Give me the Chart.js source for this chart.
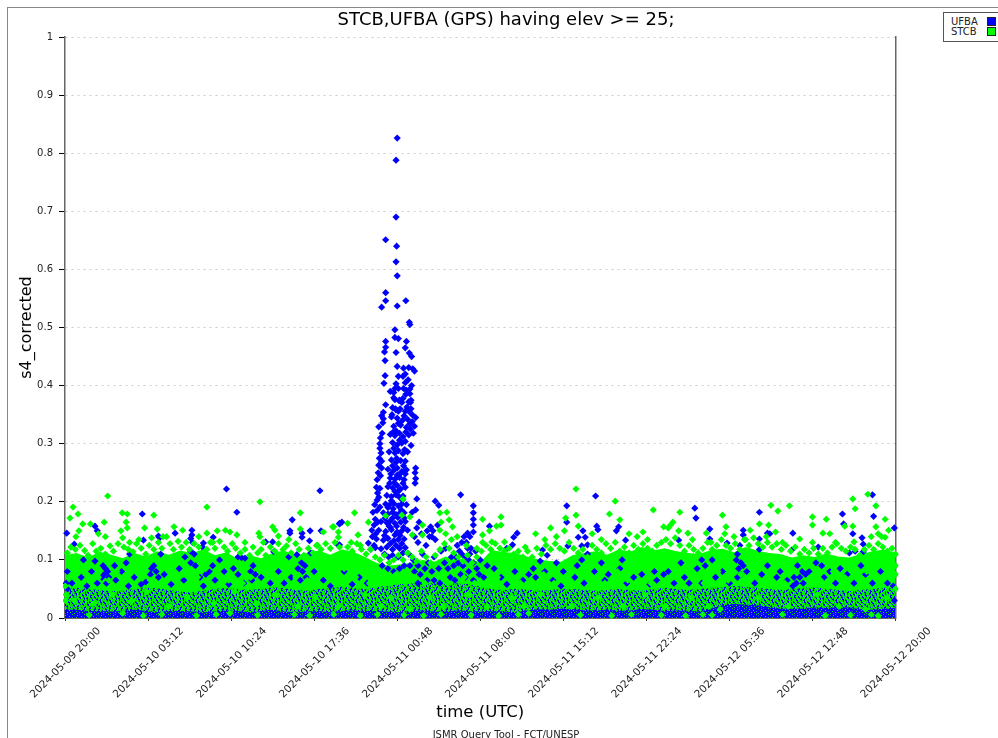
<!DOCTYPE html>
<html>
<head>
<meta charset="utf-8">
<title>s4_corrected</title>
<script src="https://cdn.jsdelivr.net/npm/chart.js@4/dist/chart.umd.min.js"></script>
<style>
    html, body { margin: 0; background: #fff; overflow: hidden; width: 998px; height: 738px; }
    #frame { position: absolute; left: 7px; top: 7px; width: 1000px; height: 800px; border-left: 1px solid #888; border-top: 1px solid #888; }
    #chartBox { position: absolute; left: 8px; top: 8px; }
    #legend { position: absolute; left: 943px; top: 12px; width: 60px; height: 28px; border: 1px solid #555; background: #fff;
              font: 10px/10px "DejaVu Sans", sans-serif; color: #222; }
    #legend div { position: absolute; left: 7px; }
    #legend span { position: absolute; left: 36px; top: 0; width: 7px; height: 7px; border: 1px solid #222; }
</style>
</head>
<body>
<div id="frame"></div>
<div id="chartBox"><canvas id="scatterChart" width="996" height="736"></canvas></div>
<div id="legend"></div>
<script>
// hours after 2024-05-09 20:00 on x, s4_corrected on y
var xTickHours = [0, 7.2, 14.4, 21.6, 28.8, 36, 43.2, 50.4, 57.6, 64.8, 72];
var xTickLabels = ['2024-05-09 20:00', '2024-05-10 03:12', '2024-05-10 10:24', '2024-05-10 17:36', '2024-05-11 00:48',
    '2024-05-11 08:00', '2024-05-11 15:12', '2024-05-11 22:24', '2024-05-12 05:36', '2024-05-12 12:48', '2024-05-12 20:00'];
var seriesNames = ['UFBA', 'STCB'];
var seriesColors = ['#0000ff', '#00ff00'];

// top of the solid green cloud, one value per hour
var stcbCloudTop = [.108,.112,.104,.114,.109,.103,.112,.106,.115,.109,.116,.112,.118,.108,.113,.101,.108,.103,.112,.116,.107,.112,.116,.109,.118,.114,.105,.095,.09,.092,.095,.1,.097,.106,.101,.102,.096,.117,.113,.112,.106,.101,.098,.097,.108,.112,.115,.109,.118,.114,.122,.116,.12,.115,.112,.11,.117,.119,.113,.122,.116,.112,.11,.104,.108,.105,.111,.106,.104,.11,.115,.118,.112];
// top of the overplotted blue and green mix, one value per hour
var mixCloudTop = [.05,.052,.05,.048,.046,.047,.05,.052,.051,.048,.045,.044,.047,.05,.052,.05,.048,.05,.053,.051,.048,.047,.05,.052,.054,.052,.05,.053,.056,.058,.06,.062,.06,.058,.06,.058,.054,.05,.048,.05,.049,.047,.048,.05,.05,.048,.047,.048,.05,.048,.047,.05,.052,.05,.048,.05,.052,.053,.055,.054,.052,.05,.048,.05,.052,.053,.05,.048,.046,.048,.05,.052,.05];
// top of the blue floor, one value per hour
var ufbaFloorTop = [.014,.014,.012,.012,.011,.012,.014,.012,.01,.012,.012,.011,.01,.011,.013,.012,.01,.012,.014,.011,.01,.011,.012,.01,.012,.013,.012,.012,.011,.01,.012,.013,.011,.011,.013,.012,.011,.012,.011,.01,.013,.015,.014,.016,.015,.013,.013,.014,.012,.013,.015,.014,.012,.013,.012,.011,.016,.022,.024,.023,.022,.019,.016,.016,.016,.018,.017,.019,.018,.015,.014,.016,.017];

var ufbaPoints = [
    [28.8,.826],[28.7,.788],[28.7,.69],[27.8,.651],[28.75,.64],[28.7,.613],[28.8,.589],[27.8,.56],[27.8,.546],[29.55,.546],[27.45,.535],[28.8,.537],
    [29.85,.509],[29.9,.505],[28.6,.496],[28.6,.483],[28.9,.481],[27.8,.476],[29.6,.476],[27.8,.466],[29.5,.465],[27.7,.458],[28.7,.457],[29.85,.456],[30.05,.45],[27.75,.443],
    [28.8,.433],[29.8,.431],[30.15,.429],[29.35,.43],[27.75,.417],[28.9,.416],[29.3,.416],[27.65,.404],[28.7,.403],[29.5,.405],[28.6,.395],[29.9,.386],[28.5,.379],[29.95,.371],[29.2,.371],
    [27.8,.367],[28.65,.36],[29.65,.363],[27.6,.354],[29.8,.356],[28.9,.356],[27.6,.343],[27.55,.336],
    [27.2,.329],[27.5,.318],[27.3,.3],[27.4,.284],[27.2,.263],[27.45,.258],[27.06,.238],[27.3,.223],[27.06,.203],[27.3,.191],[26.7,.182],[26.6,.151],[26.3,.129],[26.9,.17],[27.1,.215],[27.25,.275],[27.35,.31],
    [27.45,.348],[27.3,.292],[27.15,.25],[27.35,.245],[27.0,.225],[27.2,.208],[26.85,.195],[27.05,.185],[26.8,.16],[27.1,.165],[26.65,.14],[26.95,.145],[26.5,.118],[26.8,.125],[27.45,.27],
    [28.2,.39],[28.5,.388],[29.6,.392],[29.9,.394],[28.6,.376],[28.95,.374],[29.3,.378],[29.8,.372],[28.4,.362],[28.7,.358],[29.05,.36],[29.5,.356],[30.0,.36],
    [28.3,.346],[28.8,.344],[29.4,.348],[29.7,.342],[30.1,.35],[28.5,.33],[29.1,.332],[29.6,.328],[29.9,.334],[28.2,.316],[28.6,.314],[29.0,.318],[29.3,.312],[29.8,.315],[30.2,.318],
    [28.4,.302],[28.8,.298],[29.2,.301],[29.5,.304],[30.0,.297],[28.1,.286],[28.6,.284],[28.9,.288],[29.3,.283],[29.7,.286],[28.3,.272],[28.7,.268],[29.1,.271],[29.5,.27],
    [28.0,.256],[28.5,.254],[28.8,.258],[29.2,.252],[29.6,.255],[30.4,.258],[30.35,.25],[30.4,.24],[30.35,.232],[28.2,.241],[28.6,.239],[29.0,.242],[29.4,.238],
    [28.0,.226],[28.4,.224],[28.8,.228],[29.1,.222],[29.5,.225],[27.9,.211],[28.3,.209],[28.7,.212],[29.0,.208],[29.3,.21],[27.8,.196],[28.1,.194],[28.5,.197],[28.9,.193],[29.2,.196],[29.6,.195],
    [27.6,.181],[28.0,.179],[28.4,.182],[28.7,.178],[29.0,.18],[29.4,.181],[27.4,.166],[27.9,.164],[28.2,.167],[28.6,.163],[29.1,.165],[29.5,.166],[27.2,.151],[27.8,.149],[28.3,.152],[28.8,.148],[29.2,.15],[29.7,.151],
    [27.0,.136],[27.6,.134],[28.0,.137],[28.5,.133],[28.9,.135],[29.4,.136],[26.9,.121],[27.4,.119],[27.9,.122],[28.4,.118],[29.0,.12],[29.5,.121],
    [28.25,.248],[28.55,.233],[28.9,.218],[29.25,.203],[28.45,.188],[28.85,.173],[28.1,.158],[28.6,.143],[29.2,.128],[28.75,.275],[29.35,.262],[28.5,.292],[29.0,.306],[29.45,.29],[28.7,.322],[29.25,.34],[28.95,.246],[28.3,.202],
    [28.15,.232],[28.4,.262],[28.8,.246],[29.3,.232],[29.5,.248],[28.6,.218],[29.15,.186],[29.4,.172],[28.4,.172],[27.75,.172],[28,.19],[28.2,.156],[28.75,.158],[29.05,.142],[29.35,.156],[27.7,.142],[28.2,.128],[28.7,.125],[28.4,.108],[28.9,.105],[29.3,.112],[27.7,.11],[28.05,.105],
    [28.45,.32],[28.9,.335],[29.55,.32],[29.95,.325],[30.1,.338],[28.35,.35],[29,.375],[29.55,.385],[30,.375],[29.35,.395],[28.9,.395],[30.05,.4],[29.75,.41],[30.3,.425],[29.5,.42],[30.4,.345],[30.3,.33],
    [30.5,.205],[30.4,.186],[30.1,.182],[30.7,.165],[31.7,.157],[32.3,.16],[32.1,.201],[32.4,.194],[34.3,.212],[35.4,.193],[35.4,.181],[35.4,.17],[35.4,.16],[35.4,.148],[34.9,.146],[35.1,.14],[36.8,.158],[39.2,.146],[38.9,.139],[38.8,.126],[38.3,.12],[24,.165],[23.8,.162],[23.8,.126],
    [30.3,.14],[30.6,.13],[31.3,.125],[31.8,.14],[32.1,.135],[32.6,.115],[33,.12],[33.5,.105],[34,.125],[34.4,.11],[34.8,.13],[35.2,.12],[35.6,.115],[36,.1],[31,.11],[31.5,.095],[32,.105],[32.9,.095],[33.7,.09],[34.5,.09],[35,.1],[30.2,.1],[30.6,.09],[29.8,.11],[36.6,.09],[37.2,.085],
    [31.4,.15],[31.6,.14],[31.9,.15],[30.5,.155],[30.9,.145],[34.6,.14],[34.9,.12],[34.4,.13],[35.1,.11],[34.7,.105],[34.2,.115],[34.1,.095],[33.9,.105],[35.4,.095],[35.7,.085],[33.2,.085],[32.4,.085],[31.8,.08],[31.2,.085],[30.8,.075],[30.3,.08],[29.9,.09],[29.4,.09],[29,.085],[28.5,.08],[28,.085],[27.5,.09],[35.9,.075],[36.3,.07],
    [14,.222],[22.1,.219],[14.9,.182],[6.7,.179],[19.7,.169],[2.6,.158],[2.8,.15],[.15,.146],[11,.151],[11,.143],[10.9,.137],[11.05,.13],[9.55,.146],[8.1,.141],[8.2,.138],[12.85,.139],[17.4,.131],[18,.131],[19.5,.15],[19.5,.146],[20.55,.146],[20.55,.139],[21.25,.15],[21.2,.133],[22.2,.15],[23.8,.163],[15.6,.103],[15.3,.104],[15,.105],[12,.129],[11.9,.122],[6.8,.134],[.8,.127],
    [18.1,.114],[21.3,.112],[23.6,.127],[20.1,.109],[19.4,.105],[20.5,.095],[20.8,.09],[10.9,.115],[11.2,.11],[10.4,.105],[10.9,.095],[11.3,.09],[7.5,.085],[7.9,.08],[3.3,.09],[3.7,.08],[3.4,.075],[4.3,.09],[5.3,.095],[5.6,.11],[1.6,.1],[2.6,.098],[16.3,.09],[14.6,.085],[13.4,.1],[8.3,.11],
    [46,.21],[43.5,.193],[54.6,.189],[54.7,.172],[60.2,.182],[70,.212],[67.4,.179],[67.5,.162],[70.1,.175],[68.3,.145],[71.9,.155],[55.9,.153],[55.9,.136],[57.4,.129],[63.1,.146],[58.8,.151],[58.8,.143],[60.9,.146],[61.1,.145],[60.2,.136],[60.2,.118],[63,.117],[69.1,.138],[69.2,.127],[69.2,.114],[68.5,.115],[68,.112],[65.3,.122],[48.6,.134],[48,.157],[47.8,.15],[46.1,.158],[46.2,.152],[44.9,.15],[44.5,.139],[45.1,.139],[45.3,.126],[44.8,.124],[43.5,.165],[43.6,.124],[45.3,.11],[41.4,.117],[41.8,.108],[41.2,.098],[42.6,.095],[53.2,.134],
    [58.5,.125],[58.3,.11],[58.2,.1],[58.6,.095],[58.4,.085],[63.5,.09],[63.9,.08],[63.2,.07],[62.6,.065],[64.2,.075],[65.1,.095],[65.6,.09],[69,.09],[67.2,.085],[48.3,.1],[48.1,.085],[46.5,.095],[44.4,.09],[44.8,.1],[43.2,.08],[51.1,.08],[51.9,.075],[53.4,.095],[55.2,.1],[55.5,.09],[56.1,.1],[56.4,.07],[40.6,.085],[40.2,.075],[40.8,.07],[54.1,.06],[60.9,.09],[61.7,.07],[49.3,.07],[47.1,.075],[71.8,.055],[71.9,.03],
    [3.5,.085],[3.8,.07],[3.2,.07],[3.6,.06],[7.7,.09],[7.4,.075],[8.1,.07],[12.2,.075],[12.5,.08],[12.8,.09],[16.1,.08],[16.5,.075],[16.2,.065],[20.2,.085],[20.6,.08],[20.9,.07],[20.4,.065],[.2,.08],[.1,.06],[.2,.05],[58.8,.09],[58.6,.075],[58.3,.07],[63.7,.07],[63.4,.06],[63.1,.055],[64.5,.08],[64,.06],[33.4,.07],[33.8,.065],[34.3,.075],[34.7,.07],[35,.08],[32.5,.06],[32,.065],[31.4,.065],[30.6,.06],[35.4,.065],
    [.6,.06],[1.4,.07],[1.9,.055],[2.3,.08],[2.8,.06],[4.4,.065],[4.9,.08],[5.5,.055],[6,.07],[6.6,.058],[7,.062],[8.6,.075],[9.2,.058],[9.9,.085],[10.3,.065],[11.7,.07],[12,.055],[13,.065],[13.8,.08],[14.2,.058],[15,.075],[15.5,.06],[17,.07],[17.8,.06],[18.5,.08],[19,.06],[19.6,.07],[21.6,.08],[22.4,.065],[23,.055],[24.2,.08],[24.9,.058],[25.5,.07],[26.2,.06],[37.8,.07],[38.3,.058],[39,.08],[39.7,.065],[41.6,.08],[42.3,.065],[43,.055],[44.2,.07],[45,.06],[45.9,.08],[46.8,.065],[48.7,.06],[50,.075],[50.7,.058],[51.3,.065],[52.3,.08],[52.8,.06],[53.7,.07],[54.8,.085],[55.2,.06],[57,.08],[57.6,.06],[59.1,.08],[59.8,.06],[60.4,.075],[62,.08],[65.8,.07],[66.3,.08],[66.8,.06],[67.8,.075],[68.4,.06],[69.4,.075],[70,.06],[70.7,.08],[71.3,.06]
];

var stcbPoints = [
    [3.7,.21],[.7,.191],[.43,.172],[1.13,.179],[1.54,.162],[2.2,.162],[3.4,.165],[1.2,.15],[.95,.14],[4.96,.181],[5.4,.179],[5.3,.165],[5.4,.155],[4.85,.15],[5,.138],[5.6,.13],[7.7,.177],[6.9,.155],[8,.153],[9.45,.157],[10.2,.151],[12.3,.191],[12.3,.146],[13.2,.15],[13.9,.151],[14.3,.148],[16.9,.2],[16.8,.146],[16.9,.14],[14.9,.143],[18,.157],[18.2,.151],[18.5,.141],[20.4,.181],[20.4,.153],[22.4,.148],[23.2,.157],[2.9,.145],[3.5,.14],[6.4,.135],[7.5,.138],[8.5,.14],[11.6,.14],[12.8,.13],[15.6,.13],[17.2,.13],[19.4,.135],[21.9,.125],
    [25.1,.181],[23.3,.157],[24.5,.163],[23.7,.148],[23.7,.139],[25.4,.143],[26.3,.165],[33.1,.182],[32.5,.181],[33.3,.169],[32.6,.165],[33.6,.157],[32.5,.151],[36.2,.17],[37.8,.174],[36.8,.15],[37.4,.158],[37.8,.16],[36.2,.143],[37,.131],[38.1,.131],[36.2,.13],[29.3,.205],[27.8,.176],[29.2,.177],[29.9,.174],[31,.16],[31,.143],[30.1,.143],[39.9,.122],[24.8,.13],[25.6,.125],[33,.145],[33.5,.135],[34,.14],[34.8,.125],[35.7,.12],
    [44.3,.222],[47.7,.201],[51,.186],[47.2,.179],[53.3,.182],[57,.177],[61.2,.194],[61.8,.184],[62.8,.193],[64.8,.174],[64.8,.16],[66,.17],[68.3,.205],[68.5,.188],[69.6,.213],[70.3,.193],[71.1,.17],[68.3,.158],[67.6,.158],[70.3,.157],[44.3,.177],[43.4,.172],[44.5,.158],[42.1,.155],[40.8,.145],[48.1,.169],[52.7,.165],[52.5,.16],[52.3,.155],[51.9,.157],[50.1,.148],[53.2,.15],[54,.146],[55.6,.146],[57.3,.157],[57.2,.145],[59.4,.151],[60.2,.162],[61,.16],[61.6,.148],[63.7,.136],[65.7,.146],[66.3,.145],[70.5,.145],[71.4,.151],[71.1,.139],[68.4,.131],[42.6,.14],[41.6,.135],[43.3,.15],[45.7,.145],[46.5,.135],[48.9,.145],[49.6,.14],[50.5,.135],[54.4,.135],[56,.13],[58,.14],[59,.135],[60.8,.14],[62.2,.13],[64.8,.13],[66.8,.13],[69.9,.14],[70.8,.14],
    [.2,.112],[.5,.122],[.9,.118],[1.3,.125],[1.7,.116],[2,.108],[2.4,.128],[2.7,.115],[3.1,.12],[3.5,.11],[3.9,.124],[4.2,.115],[4.6,.128],[5.1,.122],[5.5,.118],[5.9,.114],[6.2,.128],[6.6,.12],[7,.11],[7.3,.125],[7.7,.118],[8.1,.13],[8.4,.12],[8.8,.14],[9.1,.128],[9.4,.118],[9.8,.132],[10.1,.122],[10.5,.13],[10.8,.118],[11.2,.128],[11.6,.122],[11.9,.112],[12.3,.118],[12.6,.13],[13,.12],[13.4,.132],[13.8,.122],[14.1,.115],[14.5,.128],[14.8,.12],[15.2,.112],[15.6,.118],[16,.108],[16.3,.122],[16.7,.112],[17,.118],[17.4,.108],[17.8,.122],[18.2,.115],[18.5,.128],[18.9,.118],[19.2,.124],[19.6,.112],[20,.128],[20.3,.118],[20.7,.108],[21.1,.12],[21.5,.112],[21.8,.125],[22.2,.118],[22.6,.128],[23,.12],[23.4,.13],[23.8,.122],[24.1,.112],[24.5,.122],[24.9,.115],[25.3,.128],[25.7,.118],[26.1,.11],[26.5,.118],[26.9,.105],[27.3,.1],[27.7,.108],[28.1,.095],[28.5,.1],[28.9,.108],[29.3,.1],[29.7,.112],[30.1,.105],[30.5,.098],[30.9,.115],[31.3,.105],[31.7,.095],[32.1,.108],[32.5,.118],[32.9,.128],[33.3,.12],[33.7,.112],[34.1,.105],[34.5,.098],[34.9,.108],[35.3,.095],[35.7,.105],[36.1,.115],[36.5,.125],[36.9,.118],[37.3,.128],[37.7,.12],[38.1,.115],[38.5,.12],[38.9,.11],[39.3,.115],[39.7,.105],
    [40.1,.115],[40.5,.105],[40.9,.12],[41.3,.11],[41.7,.125],[42.1,.118],[42.5,.128],[42.9,.12],[43.3,.115],[43.7,.13],[44.1,.12],[44.5,.112],[44.9,.118],[45.3,.105],[45.7,.125],[46.1,.118],[46.5,.112],[46.9,.128],[47.3,.12],[47.7,.13],[48.1,.115],[48.5,.122],[48.9,.112],[49.3,.125],[49.7,.118],[50.1,.128],[50.5,.12],[50.9,.115],[51.3,.125],[51.7,.13],[52.1,.135],[52.5,.128],[52.9,.138],[53.3,.125],[53.7,.115],[54.1,.125],[54.5,.118],[54.9,.112],[55.3,.12],[55.7,.13],[56.1,.118],[56.5,.125],[56.9,.135],[57.3,.125],[57.7,.12],[58.1,.128],[58.5,.118],[58.9,.135],[59.3,.125],[59.7,.138],[60.1,.128],[60.5,.122],[60.9,.13],[61.3,.122],[61.7,.128],[62.1,.118],[62.5,.125],[62.9,.115],[63.3,.122],[63.7,.11],[64.1,.118],[64.5,.112],[64.9,.12],[65.3,.11],[65.7,.12],[66.1,.112],[66.5,.122],[66.9,.128],[67.3,.12],[67.7,.115],[68.1,.122],[68.5,.118],[68.9,.108],[69.3,.118],[69.7,.125],[70.1,.118],[70.5,.128],[70.9,.122],[71.3,.115],[71.7,.12],[72,.11],
    [.3,.09],[1,.075],[1.9,.085],[2.9,.07],[3.8,.065],[4.5,.08],[5.6,.075],[6.5,.085],[7.4,.065],[8.6,.09],[9.3,.07],[10.3,.075],[11.5,.07],[12.2,.085],[13.3,.075],[14.2,.065],[15.4,.06],[16.1,.07],[17.6,.08],[18.4,.06],[19.1,.085],[20,.07],[21,.065],[22.3,.085],[23.3,.07],[24.2,.085],[25.2,.07],[26.4,.06],[27.2,.07],[27.9,.06],[28.7,.075],[29.5,.06],[30.3,.07],[31.2,.06],[32.3,.075],[33.2,.06],[34.6,.07],[35.5,.06],[36.4,.08],[37.5,.07],[38.4,.085],[39.5,.06],[40.4,.065],[41.5,.075],[42.4,.06],[43.6,.07],[44.7,.075],[45.6,.07],[46.8,.06],[47.9,.08],[48.8,.065],[49.8,.085],[50.8,.06],[51.6,.09],[52.7,.07],[53.6,.08],[54.5,.075],[55.4,.06],[56.6,.08],[57.5,.065],[58.6,.075],[59.6,.085],[60.6,.06],[61.5,.085],[62.4,.06],[63.4,.08],[64.4,.09],[65.5,.065],[66.6,.08],[67.6,.07],[68.6,.075],[69.5,.08],[70.4,.07],[71.5,.085],
    [.1,.04],[.05,.03],[.02,.055],[.8,.03],[2.5,.025],[4.1,.04],[5.8,.03],[7.1,.045],[9,.02],[10.6,.035],[12.9,.025],[14.7,.045],[16.6,.025],[18.3,.04],[20.2,.02],[21.7,.035],[23.7,.02],[26,.04],[27.4,.02],[28.3,.035],[29.9,.015],[31.6,.035],[32.8,.02],[35,.04],[36.6,.02],[38.8,.035],[39.8,.02],[41.2,.04],[43.9,.02],[46.2,.035],[48.4,.02],[50.3,.04],[52,.02],[54.3,.035],[55.8,.02],[56.8,.015],[60.1,.035],[62.7,.02],[65.2,.04],[67.1,.02],[69.4,.015],[71.2,.035],[72,.05],[72,.075],[72,.09],
    [2.1,.005],[5,.008],[6.8,.004],[8.4,.006],[11.4,.004],[13.1,.006],[14.3,.008],[16.7,.005],[19.9,.006],[21.2,.004],[23.3,.006],[25.6,.004],[27.1,.006],[29.4,.005],[31.1,.004],[32.6,.006],[35.2,.005],[37.6,.004],[39.3,.006],[40.2,.008],[44.7,.005],[47.4,.004],[49.1,.006],[51.7,.005],[53.8,.004],[55.3,.006],[56.1,.005],[62.2,.006],[65.9,.004],[68.1,.005],[69.9,.006],[70.5,.004]
];

function hourly(values) {
    return values.map((v, i) => ({ x: i, y: v }));
}

// repeating tiles for the parts of the cloud too dense to tell marks apart
var mixTile = ['gbgggbbgggmgbggggbbgggmbgggbgggm', 'gbbggbgggggmbgdggbgggmbbggbbggdg', 'ggbgmbggdgbbgggggbbgggbgggbgggbg', 'ggbbggggbgbggmgbgggbggbgdgggmgbb',
    'dggbgggbbggggbgbbgggbgggbbggggbg', 'ggmbbggbgggdgbggbgmgbbgggbgdgbbg', 'bgggbggbggbggbbggggggbggmbgggbgg', 'bbggbgggggbbggbgdgbbgggggbbgmggg',
    'gbdggggbgggbggggggbgggbgggbgggbg', 'gbbgmggbbggbmggbggbbggbbgggdgbbg', 'ggbgggggbgggbgbbgggbgggbgbgggbgg', 'mgbbgbgggdggbggbgmggbgggbbggbggg',
    'ggdbgbbggggbgggbggggbbgggbgbbgdg', 'gggbggbgmggbbggggbgggbgdggggbggb', 'bgggggbbgggdbggbgbbggbbgggmgbbgb', 'bbgdgggbggbggggbgggbgggbgggggbgg',
    'gbggmgggbgbbgdgbbgggbgggbbgggbgm', 'gbbgggbggggbgggmbggggbggdbgbgggg', 'ggbggbbgdggggbgggbgmgbbgggbbggdg', 'mggbgbgggbggbbggggbggggbgggbggbg'];
var floorTile = ['bbbbgbbbbbbm', 'bbbbbbmbbgbb', 'bgbbbbbbbbbb', 'bbbbmbbbgbbb', 'bbgbbbbbbbbg', 'bbbbbbgbbmbb'];
var tileInks = { b: '#0000ff', g: '#00f000', m: '#0a7a8a', d: '#10b040' };

function tilePattern(rows) {
    var tile = document.createElement('canvas');
    tile.width = rows[0].length;
    tile.height = rows.length;
    var tileCtx = tile.getContext('2d');
    rows.forEach((row, y) => row.split('').forEach((c, x) => {
        tileCtx.fillStyle = tileInks[c];
        tileCtx.fillRect(x, y, 1, 1);
    }));
    return tileCtx.createPattern(tile, 'repeat');
}

function cloud(values, paint, order) {
    return { type: 'line', data: hourly(values), backgroundColor: paint, borderWidth: 0, pointRadius: 0, fill: 'origin', order: order };
}

function marks(label, points, color, order) {
    return {
        label: label,
        data: points.map(p => ({ x: p[0], y: p[1] })),
        backgroundColor: color,
        borderWidth: 0,
        pointStyle: 'rectRot',
        pointRadius: 3.6,
        clip: { left: 2, right: 3, top: 3, bottom: 2 },
        order: order
    };
}

var fontName = '"DejaVu Sans", sans-serif';
var ctx = document.getElementById('scatterChart').getContext('2d');
var myChart = new Chart(ctx, {
    type: 'scatter',
    data: {
        datasets: [
            marks(seriesNames[1], stcbPoints, seriesColors[1], 1),
            marks(seriesNames[0], ufbaPoints, seriesColors[0], 2),
            cloud(ufbaFloorTop, tilePattern(floorTile), 3),
            cloud(mixCloudTop, tilePattern(mixTile), 4),
            cloud(stcbCloudTop, seriesColors[1], 5)
        ]
    },
    options: {
        responsive: false,
        animation: false,
        layout: { autoPadding: false },
        plugins: {
            legend: { display: false },
            tooltip: { enabled: false },
            title: {
                display: true,
                text: 'STCB,UFBA (GPS) having elev >= 25;',
                color: '#000',
                font: { family: fontName, size: 18, weight: 'normal', lineHeight: 1.2 },
                padding: { top: 2, bottom: 5.4 }
            },
            subtitle: {
                display: true,
                position: 'bottom',
                text: 'ISMR Query Tool - FCT/UNESP',
                color: '#222',
                font: { family: fontName, size: 10, weight: 'normal', lineHeight: 1.2 },
                padding: { top: 0, bottom: 3 }
            }
        },
        scales: {
            x: {
                type: 'linear',
                min: 0,
                max: 72,
                afterFit: s => { s.height = 111; s.paddingLeft = 0; s.paddingRight = 0; },
                afterBuildTicks: s => { s.ticks = xTickHours.map(h => ({ value: h })); },
                grid: { drawOnChartArea: false, tickLength: 3, tickColor: '#333' },
                border: { color: '#666' },
                ticks: {
                    autoSkip: false,
                    minRotation: 45,
                    maxRotation: 45,
                    labelOffset: 34,
                    padding: 4,
                    color: '#222',
                    font: { family: fontName, size: 10.5 },
                    callback: (v, i) => xTickLabels[i]
                },
                title: {
                    display: true,
                    text: 'time (UTC)',
                    color: '#000',
                    font: { family: fontName, size: 16.5, lineHeight: 1.2 },
                    padding: { top: 0, bottom: 6 }
                }
            },
            y: {
                min: 0,
                max: 1,
                afterFit: s => { s.width = 57; },
                grid: { color: '#ccc', tickColor: '#000', tickLength: 6 },
                border: { color: '#666', width: 1.5, dash: [2, 4] },
                ticks: {
                    stepSize: 0.1,
                    padding: 6,
                    color: '#222',
                    font: { family: fontName, size: 10 },
                    callback: v => String(+v.toFixed(1))
                },
                title: {
                    display: true,
                    text: 's4_corrected',
                    color: '#000',
                    font: { family: fontName, size: 16, lineHeight: 1.2 },
                    padding: { top: 9, bottom: 0 }
                }
            },
            yRight: {
                axis: 'y',
                position: 'right',
                min: 0,
                max: 1,
                afterFit: s => { s.width = 108.5; },
                grid: { display: false },
                border: { color: '#666', width: 1.5 },
                ticks: { display: false }
            }
        }
    }
});

// legend sits outside the plot, in its own small box
var legendBox = document.getElementById('legend');
seriesNames.forEach((name, i) => {
    var row = document.createElement('div');
    row.style.top = (4 + i * 10) + 'px';
    row.textContent = name;
    var swatch = document.createElement('span');
    swatch.style.background = seriesColors[i];
    row.appendChild(swatch);
    legendBox.appendChild(row);
});
</script>
</body>
</html>
